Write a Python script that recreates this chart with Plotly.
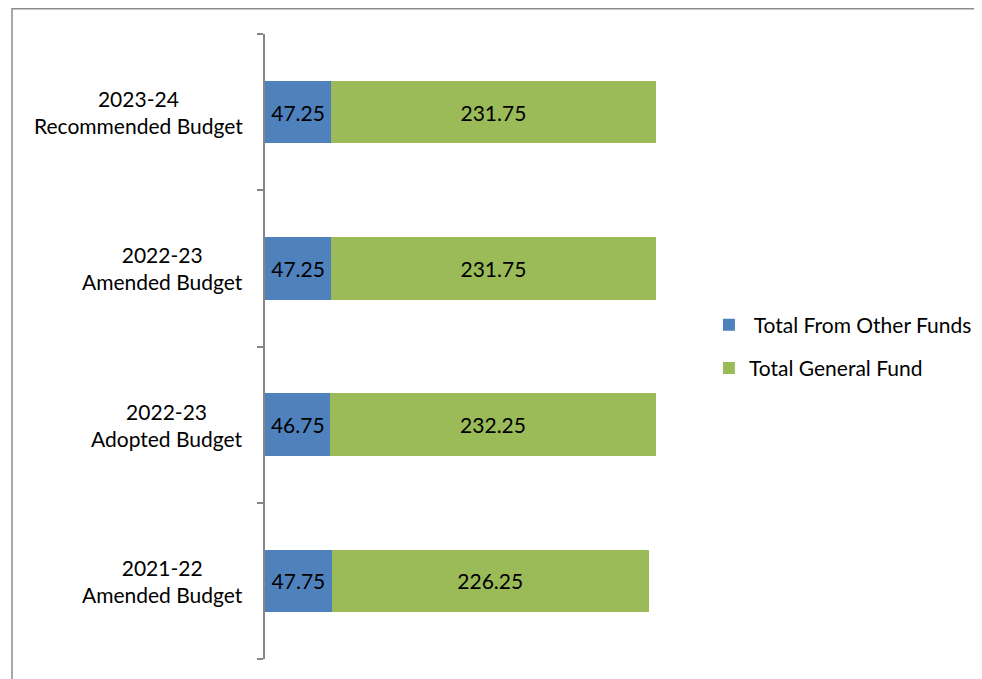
import plotly.graph_objects as go

categories = ["2023-24<br>Recommended Budget", "2022-23<br>Amended Budget",
              "2022-23<br>Adopted Budget", "2021-22<br>Amended Budget"]
other_funds = [47.25, 47.25, 46.75, 47.75]
general_fund = [231.75, 231.75, 232.25, 226.25]

FONT = "Lato"
FS = 21
fig = go.Figure()
fig.add_trace(go.Bar(y=categories, x=other_funds, orientation="h", name=" Total From Other Funds",
                     marker=dict(color="#4F81BD", line=dict(width=0)), width=0.4,
                     text=other_funds, texttemplate="%{x:.2f}", textposition="inside",
                     insidetextanchor="middle", textangle=0, legendgroup="a"))
fig.add_trace(go.Bar(y=categories, x=general_fund, orientation="h", name="Total General Fund",
                     marker=dict(color="#9BBB59", line=dict(width=0)), width=0.4,
                     text=general_fund, texttemplate="%{x:.2f}", textposition="inside",
                     insidetextanchor="middle", textangle=0, legendgroup="b"))
fig.update_traces(textfont=dict(color="black", size=FS, family=FONT), constraintext="none")

# category labels, centred lines like the original
for c in categories:
    fig.add_annotation(x=0, y=c, xref="paper", yref="y", text=c, showarrow=False,
                       xanchor="right", xshift=-20, align="center",
                       font=dict(size=FS, family=FONT, color="black"))

# outer chart border
fig.add_shape(type="rect", xref="paper", yref="paper", x0=-0.6024, x1=2.0, y0=-0.3, y1=1.0404,
              line=dict(color="#8C8C8C", width=1.5), fillcolor="rgba(0,0,0,0)", layer="below")

fig.update_layout(
    barmode="stack",
    width=982, height=679,
    margin=dict(l=257, r=305, t=26, b=28),
    plot_bgcolor="white", paper_bgcolor="white",
    font=dict(family=FONT, size=FS, color="black"),
    showlegend=True,
    legend=dict(x=1.057, y=0.5, yanchor="middle", xanchor="left", traceorder="grouped",
                tracegroupgap=13, font=dict(size=FS, family=FONT)),
    xaxis=dict(range=[0, 300], visible=False),
    yaxis=dict(categoryorder="array", categoryarray=categories[::-1], range=[-0.5, 3.5],
               showticklabels=False, tickson="boundaries", ticks="outside", ticklen=6,
               tickcolor="#868686", tickwidth=1.5, showline=True, linecolor="#868686",
               linewidth=1.5, showgrid=False, zeroline=False),
)
fig.write_html("out.html")
